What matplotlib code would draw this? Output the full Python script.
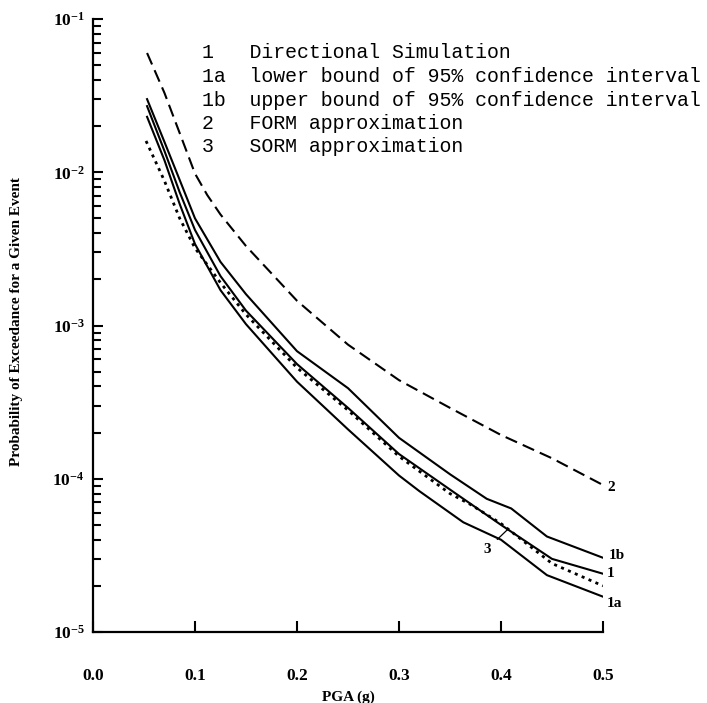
import matplotlib
matplotlib.use('Agg')
import matplotlib.pyplot as plt
from matplotlib.ticker import FixedLocator, FixedFormatter, LogLocator, NullFormatter

# ---------------- data ----------------
x_1b = [0.053, 0.07, 0.085, 0.10, 0.125, 0.15, 0.20, 0.25, 0.30, 0.35, 0.386, 0.41, 0.445, 0.50]
p_1b = [0.030, 0.0158, 0.0089, 0.0050, 0.0026, 0.0016, 6.8e-4, 3.9e-4, 1.85e-4, 1.07e-4, 7.4e-5, 6.4e-5, 4.2e-5, 3.05e-5]

x_1 = [0.053, 0.07, 0.085, 0.10, 0.125, 0.15, 0.20, 0.25, 0.30, 0.35, 0.40, 0.45, 0.50]
p_1 = [0.027, 0.0138, 0.0074, 0.0042, 0.0021, 0.00125, 5.6e-4, 2.9e-4, 1.45e-4, 8.5e-5, 5.0e-5, 3.0e-5, 2.4e-5]

x_1a = [0.053, 0.07, 0.085, 0.10, 0.125, 0.15, 0.20, 0.25, 0.30, 0.32, 0.363, 0.40, 0.445, 0.50]
p_1a = [0.023, 0.0120, 0.0062, 0.0034, 0.0017, 0.00102, 4.3e-4, 2.1e-4, 1.05e-4, 8.3e-5, 5.2e-5, 4.0e-5, 2.35e-5, 1.7e-5]

x_2 = [0.053, 0.07, 0.085, 0.10, 0.112, 0.125, 0.15, 0.20, 0.25, 0.30, 0.35, 0.40, 0.45, 0.50]
p_2 = [0.060, 0.033, 0.018, 0.0098, 0.0071, 0.0053, 0.0033, 0.00145, 7.5e-4, 4.4e-4, 2.9e-4, 1.93e-4, 1.36e-4, 9.1e-5]

x_3 = [0.052, 0.07, 0.085, 0.10, 0.125, 0.15, 0.20, 0.25, 0.30, 0.35, 0.37, 0.40, 0.45, 0.50]
p_3 = [0.016, 0.0088, 0.0050, 0.0032, 0.0019, 0.00118, 5.3e-4, 2.8e-4, 1.4e-4, 8.0e-5, 6.8e-5, 5.1e-5, 2.8e-5, 2.0e-5]

legend_keys = ['1', '1a', '1b', '2', '3']
legend_desc = ['Directional Simulation',
               'lower bound of 95% confidence interval',
               'upper bound of 95% confidence interval',
               'FORM approximation',
               'SORM approximation']

x_ticks = [0.0, 0.1, 0.2, 0.3, 0.4, 0.5]
x_tick_labels = ['0.0', '0.1', '0.2', '0.3', '0.4', '0.5']
y_ticks = [1e-5, 1e-4, 1e-3, 1e-2, 1e-1]
y_tick_labels = [r'$\mathbf{10^{-5}}$', r'$\mathbf{10^{-4}}$', r'$\mathbf{10^{-3}}$',
                 r'$\mathbf{10^{-2}}$', r'$\mathbf{10^{-1}}$']

x_label = 'PGA (g)'
y_label = 'Probability of Exceedance for a Given Event'

# ---------------- style ----------------
plt.rcParams['mathtext.fontset'] = 'custom'
plt.rcParams['mathtext.rm'] = 'Liberation Serif'
plt.rcParams['mathtext.bf'] = 'Liberation Serif:bold'
plt.rcParams['mathtext.it'] = 'Liberation Serif:italic'
SERIF = ['Liberation Serif', 'DejaVu Serif']

fig = plt.figure(figsize=(7.07, 7.03), dpi=100)
W, H = 707, 703
ax = fig.add_axes([93 / W, 1 - 632 / H, (603 - 93) / W, (632 - 19) / H])

lw = 1.5
ax.plot(x_1b, p_1b, color='black', lw=lw, solid_joinstyle='round')
ax.plot(x_1, p_1, color='black', lw=lw, solid_joinstyle='round')
ax.plot(x_1a, p_1a, color='black', lw=lw, solid_joinstyle='round')
ax.plot(x_2, p_2, color='black', lw=lw, linestyle=(0, (6, 3)))
ax.plot(x_3, p_3, color='black', lw=2.0, linestyle=(0, (1.1, 1.6)))

ax.set_yscale('log')
ax.set_xlim(0.0, 0.5)
ax.set_ylim(1e-5, 1e-1)

for s in ['top', 'right']:
    ax.spines[s].set_visible(False)
for s in ['left', 'bottom']:
    ax.spines[s].set_linewidth(1.6)

ax.xaxis.set_major_locator(FixedLocator(x_ticks))
ax.xaxis.set_major_formatter(FixedFormatter(x_tick_labels))
ax.yaxis.set_major_locator(FixedLocator(y_ticks))
ax.yaxis.set_major_formatter(FixedFormatter(y_tick_labels))
ax.yaxis.set_minor_locator(LogLocator(base=10, subs=range(2, 10)))
ax.yaxis.set_minor_formatter(NullFormatter())

ax.tick_params(axis='x', which='major', direction='in', length=8, width=1.5, pad=26)
ax.tick_params(axis='y', which='major', direction='in', length=7, width=1.5, pad=6)
ax.tick_params(axis='y', which='minor', direction='in', length=6, width=1.5)
for lab in ax.get_xticklabels():
    lab.set_fontfamily(SERIF)
    lab.set_fontweight('bold')
    lab.set_fontsize(12.5)
for lab in ax.get_yticklabels():
    lab.set_fontsize(12.5)

ax.set_xlabel(x_label, fontfamily=SERIF, fontweight='bold', fontsize=11)
ax.xaxis.set_label_coords(0.5, (632 - 697) / (632 - 19))
ax.xaxis.label.set_va('center')
ax.set_ylabel(y_label, fontfamily=SERIF, fontweight='bold', fontsize=11)
ax.yaxis.set_label_coords((17 - 93) / (603 - 93), (632 - 322) / (632 - 19))
ax.yaxis.label.set_va('center')

# curve end labels
end_labels = [('2', x_2, p_2, (3, -2)),
              ('1b', x_1b, p_1b, (4, 2)),
              ('1', x_1, p_1, (3, 0)),
              ('1a', x_1a, p_1a, (3, -5))]
for txt, xs, ps, off in end_labels:
    ax.annotate(txt, xy=(xs[-1], ps[-1]), xytext=off, textcoords='offset points',
                ha='left', va='center', fontfamily=SERIF, fontweight='bold', fontsize=11,
                annotation_clip=False)

ax.annotate('3', xy=(0.407, 4.7e-5), xytext=(0.386, 3.45e-5),
            ha='center', va='center', fontfamily=SERIF, fontweight='bold', fontsize=11,
            arrowprops=dict(arrowstyle='-', color='black', lw=0.9, shrinkA=4, shrinkB=0))

# legend block (typewriter style)
for i, (k, d) in enumerate(zip(legend_keys, legend_desc)):
    y_px = 53 + i * 23.5
    fig.text(202 / W, 1 - y_px / H, f'{k:<4}{d}', fontfamily=['Liberation Mono', 'DejaVu Sans Mono'],
             fontsize=14.3, ha='left', va='center', color='black')

fig.savefig('out.png', dpi=100)
